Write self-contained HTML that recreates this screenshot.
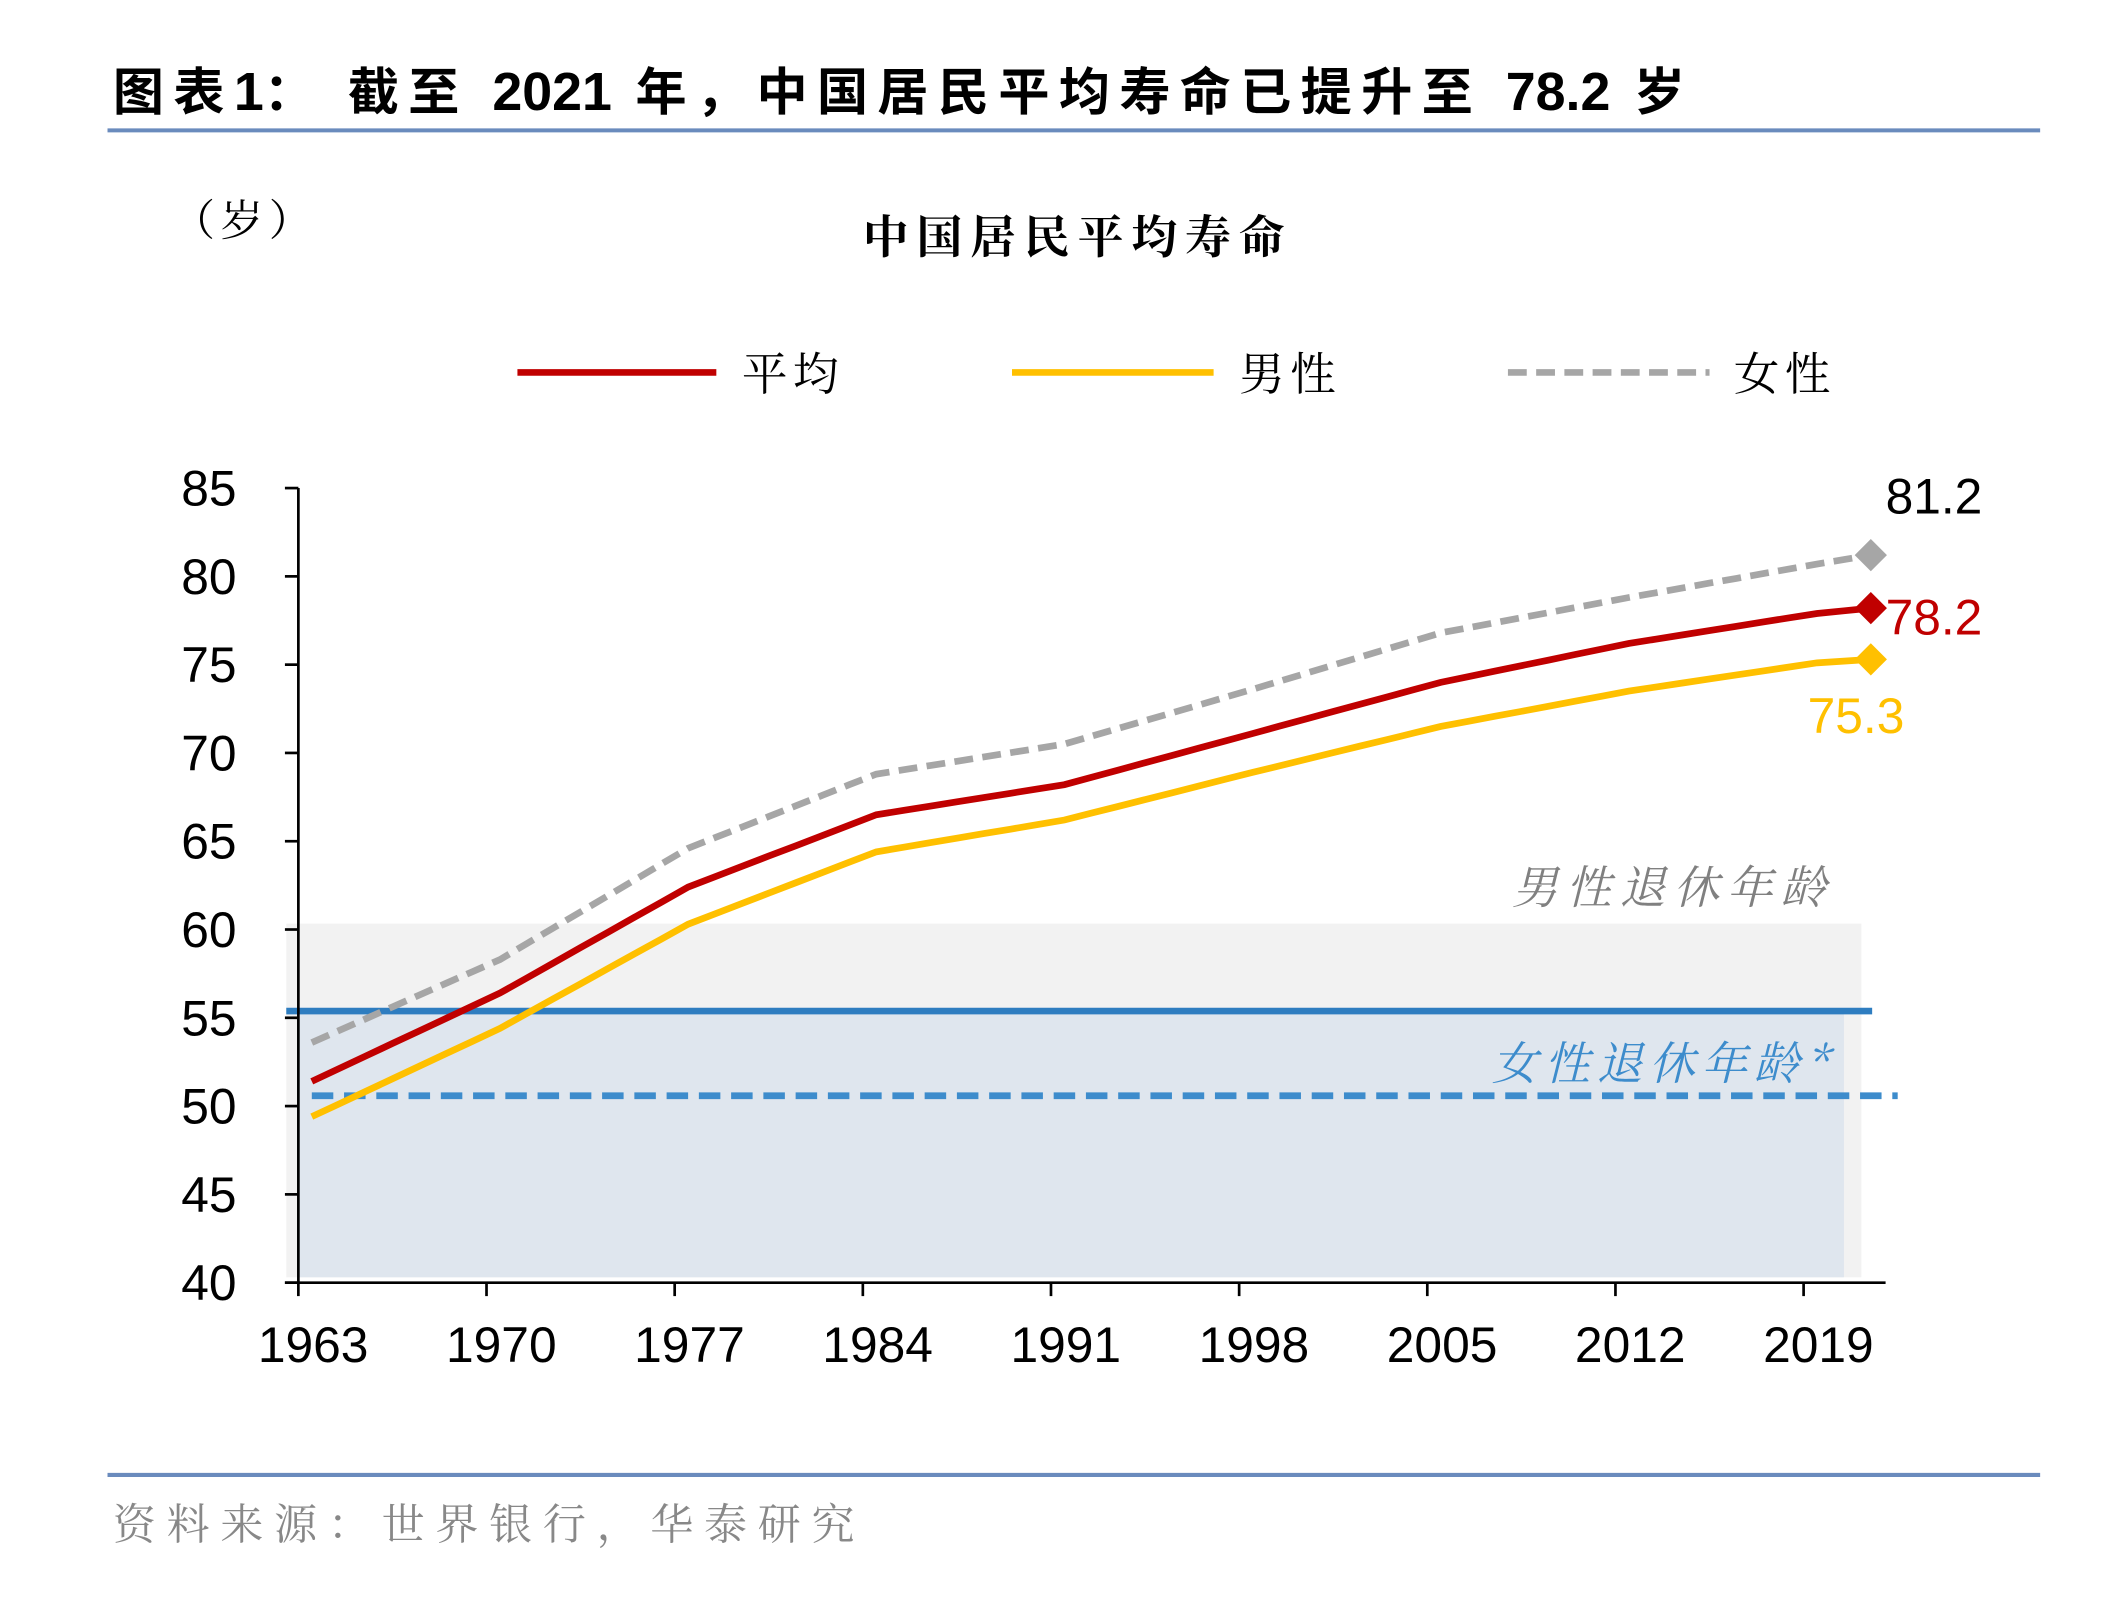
<!DOCTYPE html>
<html><head><meta charset="utf-8"><style>
html,body{margin:0;padding:0;background:#fff;}
svg{display:block;}
text{font-family:"Liberation Sans","Noto Sans CJK SC",sans-serif;}
.cjk{font-family:"Noto Serif CJK SC","Noto Sans CJK SC",serif;}
</style></head><body>
<svg id="s" width="2106" height="1604" viewBox="0 0 1567 1193" preserveAspectRatio="none" xmlns="http://www.w3.org/2000/svg">
<text x="84" y="82" font-size="38" font-weight="bold" letter-spacing="7" font-family="Liberation Sans, Noto Sans CJK SC, sans-serif">图表<tspan letter-spacing="0" font-size="40">1</tspan>：  截至 <tspan letter-spacing="0" font-size="40">2021</tspan> 年，中国居民平均寿命已提升至 <tspan letter-spacing="0" font-size="40">78.2</tspan> 岁</text>
<line x1="80" y1="97" x2="1518" y2="97" stroke="#6a8bbd" stroke-width="3"/>
<text x="128" y="175" font-size="32" letter-spacing="4" class="cjk">（岁）</text>
<text x="642" y="188" font-size="34" font-weight="bold" letter-spacing="6" class="cjk">中国居民平均寿命</text>
<line x1="385" y1="277" x2="533" y2="277" stroke="#c00000" stroke-width="5"/>
<text x="552" y="290" font-size="34" letter-spacing="4" class="cjk">平均</text>
<line x1="753" y1="277" x2="903" y2="277" stroke="#ffc000" stroke-width="5"/>
<text x="922" y="290" font-size="34" letter-spacing="4" class="cjk">男性</text>
<line x1="1122" y1="277" x2="1272" y2="277" stroke="#a6a6a6" stroke-width="5" stroke-dasharray="14,7"/>
<text x="1290" y="290" font-size="34" letter-spacing="4" class="cjk">女性</text>
<rect x="213" y="687" width="1172" height="263" fill="#f2f2f2"/>
<rect x="222" y="752" width="1150" height="198" fill="#dfe6ee"/>
<line x1="213" y1="752" x2="1393" y2="752" stroke="#2e7dc0" stroke-width="5"/>
<line x1="232" y1="815" x2="1412" y2="815" stroke="#3d8ccc" stroke-width="5" stroke-dasharray="16,8"/>
<text x="1125" y="672" font-size="34" font-style="italic" letter-spacing="6" fill="#808080" class="cjk">男性退休年龄</text>
<text x="1110" y="803" font-size="34" font-style="italic" letter-spacing="5" fill="#3d8ccc" class="cjk">女性退休年龄*</text>
<g id="axes" stroke="#000" stroke-width="2"></g>
<g id="lab" font-size="37" fill="#000"></g>
<g id="ser"></g>
<text x="1403" y="382" font-size="37">81.2</text>
<text x="1403" y="472" font-size="37" fill="#c00000">78.2</text>
<text x="1345" y="545" font-size="37" fill="#ffc000">75.3</text>
<line x1="80" y1="1097" x2="1518" y2="1097" stroke="#6a8bbd" stroke-width="3"/>
<text x="84" y="1145" font-size="32" letter-spacing="8" fill="#888" class="cjk">资料来源：世界银行，华泰研究</text>
</svg>
<script>
var NS="http://www.w3.org/2000/svg",s=document.getElementById('s');
function el(t,a,p){var e=document.createElementNS(NS,t);for(var k in a)e.setAttribute(k,a[k]);(p||s).appendChild(e);return e;}
var ax=document.getElementById('axes'),lab=document.getElementById('lab'),ser=document.getElementById('ser');
function Y(v){return 954-(v-40)*13.133;}
el('line',{x1:222,y1:363,x2:222,y2:954},ax);
el('line',{x1:212,y1:954,x2:1403,y2:954},ax);
for(var v=40;v<=85;v+=5){el('line',{x1:212,y1:Y(v),x2:222,y2:Y(v)},ax);var t=el('text',{x:176,y:Y(v)+13,'text-anchor':'end'},lab);t.textContent=v;}
for(var i=0;i<9;i++){var x=222+140*i;el('line',{x1:x,y1:954,x2:x,y2:964},ax);var t=el('text',{x:x+11,y:1013,'text-anchor':'middle'},lab);t.textContent=1963+7*i;}
function X(y){return 232+(y-1963)*20;}
var yrs=[1963,1970,1977,1984,1991,1998,2005,2012,2019,2021];
var avg=[51.4,56.4,62.4,66.5,68.2,71.1,74.0,76.2,77.9,78.2];
var mal=[49.4,54.4,60.3,64.4,66.2,68.9,71.5,73.5,75.1,75.3];
var fem=[53.6,58.3,64.6,68.8,70.5,73.6,76.8,78.8,80.7,81.2];
function pts(d){var p=[];for(var y=1963;y<=2021;y++){var j=0;while(yrs[j+1]<y)j++;var a=yrs[j],b=yrs[j+1],f=(y-a)/(b-a);p.push(X(y)+','+Y(d[j]+(d[j+1]-d[j])*f).toFixed(1));}return p.join(' ');}
el('polyline',{points:pts(fem),fill:'none',stroke:'#a6a6a6','stroke-width':5,'stroke-dasharray':'14,7'},ser);
el('polyline',{points:pts(mal),fill:'none',stroke:'#ffc000','stroke-width':5},ser);
el('polyline',{points:pts(avg),fill:'none',stroke:'#c00000','stroke-width':5},ser);
function dia(v,c){var x=X(2021),y=Y(v);el('polygon',{points:(x-12)+','+y+' '+x+','+(y-12)+' '+(x+12)+','+y+' '+x+','+(y+12),fill:c},ser);}
dia(81.2,'#a6a6a6');dia(78.2,'#c00000');dia(75.3,'#ffc000');
</script>
</body></html>
